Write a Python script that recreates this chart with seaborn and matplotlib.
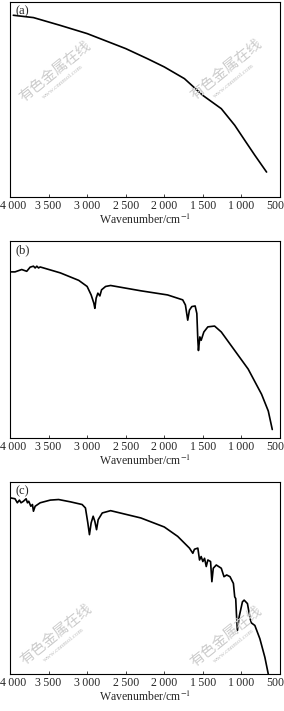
import numpy as np
import pandas as pd
import matplotlib
matplotlib.use("Agg")
import matplotlib.pyplot as plt
import seaborn as sns

# ---- spectra (wavenumber / cm-1, transmittance in % of panel height)
wn_a = [3957, 3696, 3348, 3000, 2500, 2217, 2000, 1739, 1500, 1261, 1087, 957, 826, 674]
tr_a = [93.2, 92.0, 88.0, 83.8, 76.1, 70.9, 66.7, 60.7, 52.1, 45.3, 36.8, 29.1, 21.4, 12.8]

wn_b = [4000, 3935, 3848, 3783, 3739, 3696, 3674, 3652, 3630, 3609, 3565, 3348, 3109,
        3000, 2948, 2913, 2900, 2883, 2861, 2835, 2813, 2761, 2696, 2304, 1957, 1761,
        1726, 1696, 1674, 1643, 1600, 1578, 1565, 1557, 1539, 1522, 1487, 1435, 1348,
        1261, 1087, 913, 739, 652, 600]
tr_b = [84.3, 84.3, 85.5, 84.6, 86.7, 87.2, 86.3, 87.2, 86.3, 86.8, 86.3, 83.8, 80.0,
        76.9, 72.6, 68.4, 65.8, 71.0, 73.5, 72.1, 75.2, 76.9, 77.4, 74.7, 72.6, 70.1,
        67.5, 59.8, 64.9, 66.7, 67.0, 63.2, 49.6, 44.4, 51.3, 49.6, 53.8, 56.4, 56.8,
        53.8, 44.4, 35.0, 22.2, 13.7, 4.3]

wn_c = [4000, 3935, 3905, 3878, 3857, 3826, 3791, 3774, 3757, 3730, 3709, 3696, 3674,
        3609, 3478, 3370, 3217, 3065, 3022, 2991, 2970, 2948, 2922, 2900, 2878, 2857,
        2804, 2696, 2304, 2000, 1826, 1674, 1630, 1609, 1565, 1543, 1522, 1500, 1478,
        1456, 1435, 1400, 1383, 1365, 1326, 1261, 1226, 1191, 1148, 1104, 1087, 1074,
        1065, 1052, 1030, 987, 965, 922, 887, 870, 826, 761, 696, 652]
tr_c = [91.8, 91.3, 89.2, 90.6, 89.2, 90.0, 91.3, 89.2, 90.0, 87.4, 88.3, 84.8, 87.4,
        89.2, 90.6, 90.9, 89.7, 88.3, 86.5, 78.7, 72.6, 78.7, 82.2, 79.5, 75.2, 80.4,
        83.9, 85.1, 81.3, 76.6, 71.7, 65.6, 62.9, 65.0, 65.6, 59.4, 61.2, 58.6, 60.3,
        56.0, 59.4, 58.6, 48.1, 55.1, 56.8, 55.1, 50.7, 51.6, 50.7, 47.2, 40.2, 39.3,
        31.5, 22.7, 29.7, 37.6, 38.5, 36.7, 28.8, 26.6, 25.3, 18.4, 8.7, 0.0]

panel_tags = ["(a)", "(b)", "(c)"]
tick_vals = [4000, 3500, 3000, 2500, 2000, 1500, 1000, 500]
tick_text = ["4\u2009000", "3\u2009500", "3\u2009000", "2\u2009500", "2\u2009000",
             "1\u2009500", "1\u2009000", "500"]
xlabel = "Wavenumber/cm$^{-1}$"
wm_cn = "有色金属在线"
wm_url = "www.cnnmol.com"

sns.set_style("ticks")
plt.rcParams["font.family"] = ["Liberation Serif", "DejaVu Serif"]
plt.rcParams["mathtext.fontset"] = "stix"

fig = plt.figure(figsize=(2.84, 7.11), dpi=100)
# axes boxes: [left, bottom, width, height] in figure fractions
boxes = [[0.0352, 0.7229, 0.9507, 0.2743],
         [0.0352, 0.3840, 0.9507, 0.2771],
         [0.0352, 0.0520, 0.9507, 0.2700]]

spectra = [(wn_a, tr_a), (wn_b, tr_b), (wn_c, tr_c)]
for box, (wn, tr), tag in zip(boxes, spectra, panel_tags):
    ax = fig.add_axes(box)
    df = pd.DataFrame({"wn": wn, "tr": tr})
    sns.lineplot(data=df, x="wn", y="tr", ax=ax, color="black", lw=1.2,
                 sort=False, estimator=None)
    ax.set_xlim(4000, 500)
    ax.set_ylim(0, 100)
    ax.set_xticks(tick_vals)
    # inner labels as normal tick labels; the two end labels are placed by hand
    # a little inward so they stay on the canvas
    ax.set_xticklabels([""] + tick_text[1:-1] + [""], fontsize=8.5)
    for val, txt, dx in [(tick_vals[0], tick_text[0], 2.0), (tick_vals[-1], tick_text[-1], -3.6)]:
        ax.annotate(txt, xy=(val, 0), xycoords=("data", "axes fraction"),
                    xytext=(dx, -2), textcoords="offset points",
                    ha="center", va="top", fontsize=8.5)
    ax.set_yticks([])
    ax.set_ylabel("")
    ax.set_xlabel(xlabel, fontsize=8.5, labelpad=1)
    ax.tick_params(axis="x", direction="in", length=2.5, width=0.6, pad=2, top=False)
    for s in ax.spines.values():
        s.set_linewidth(0.8)
        s.set_color("black")
    ax.text(0.02, 0.985, tag, transform=ax.transAxes, ha="left", va="top", fontsize=9)

# faint watermarks
wm_spots = [(0.194, 0.899, 0.222, 0.885), (0.796, 0.902, 0.824, 0.887),
            (0.197, 0.107, 0.225, 0.093), (0.796, 0.105, 0.824, 0.091)]
for cx, cy, ux, uy in wm_spots:
    fig.text(cx, cy, wm_cn, rotation=39, ha="center", va="center", fontsize=10.5,
             color="#cccccc", family=["Noto Sans CJK SC", "DejaVu Sans"], zorder=0)
    fig.text(ux, uy, wm_url, rotation=39, ha="center", va="center", fontsize=5,
             color="#c4c4c4", zorder=0)

fig.savefig("out.png", dpi=100)
